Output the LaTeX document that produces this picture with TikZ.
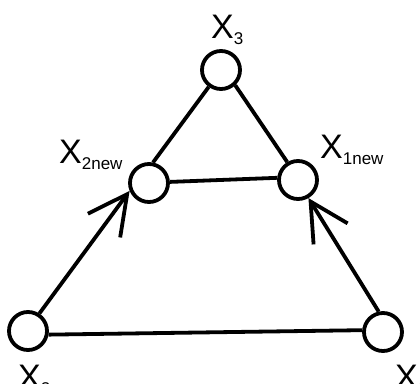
\documentclass[tikz,border=0pt]{standalone}
\usepackage{fontspec}
\setmainfont{Liberation Sans}
\usetikzlibrary{arrows.meta}
\newcommand{\xsub}[1]{X\raisebox{-6pt}{\fontsize{17}{17}\selectfont #1}}

\begin{document}
\begin{tikzpicture}[
    x=1pt, y=-1pt,
    every node/.style={font=\fontsize{34}{34}\selectfont},
    vert/.style={
        circle, draw=black, fill=white, line width=3.8pt,
        minimum size=38pt, inner sep=0pt,
    },
    lnk/.style={draw=black, line width=3.8pt},
    arr/.style={lnk, -{Straight Barb[length=#1pt, width=40pt]}},
    lab/.style={inner sep=0pt, anchor=base west},
]
\useasboundingbox (0,0) rectangle (420,383);

% ---------------------------------------------------------------- vertices
\node[vert] (x3)    at (221, 70)  {};
\node[vert] (x2new) at (149, 183) {};
\node[vert] (x1new) at (298, 180) {};
\node[vert] (x2)    at (28, 331)  {};
\node[vert] (x1)    at (383, 332) {};

% ---------------------------------------------------------------- labels
\node[lab] (l3)    at (211, 38)  {\xsub{3}};
\node[lab] (l2new) at (59, 163)  {\xsub{2new}};
\node[lab] (l1new) at (320, 158) {\xsub{1new}};
\node[lab] (l2)    at (18, 388)  {\xsub{2}};
\node[lab] (l1)    at (395, 388) {\xsub{1}};

% ---------------------------------------------------------------- edges
\draw[lnk] (x3.234) -- (x2new.79);
\draw[lnk] (x3.313) -- (x1new.121);
\draw[lnk] (x2new.3) -- (x1new.174);
\draw[lnk] (x2.350) -- (x1.175);

\draw[arr=39] (x2.57) -- (x2new.202);
\draw[arr=38] (x1.102) -- (x1new.300);

\end{tikzpicture}
\end{document}
